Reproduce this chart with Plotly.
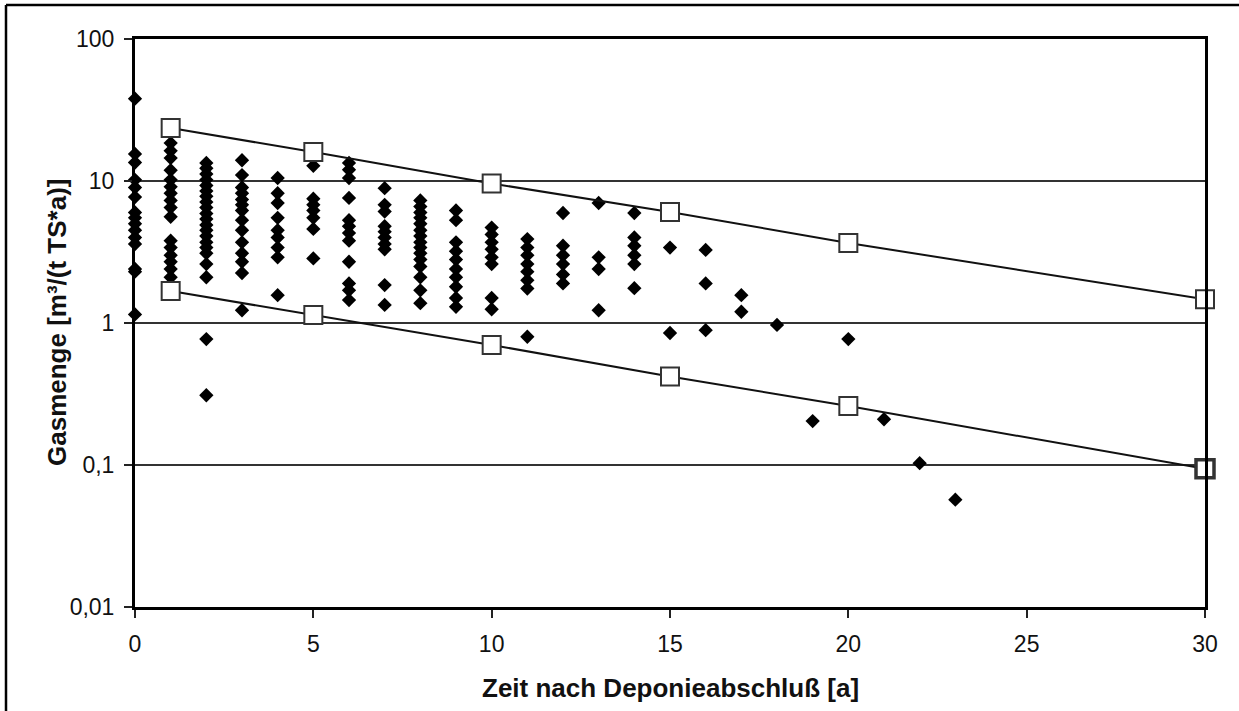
import plotly.graph_objects as go

# ---- data ----
meas_x = (
    [0] * 15 + [1] * 16 + [2] * 21 + [3] * 14 + [4] * 9 + [5] * 7 + [6] * 12 +
    [7] * 10 + [8] * 15 + [9] * 10 + [10] * 8 + [11] * 8 + [12] * 6 + [13] * 4 +
    [14] * 6 + [15] * 2 + [16] * 3 + [17] * 2 + [18, 19, 20, 21, 22, 23]
)
meas_y = (
    [38, 15.5, 13.5, 10.2, 9.0, 7.7, 6.0, 5.5, 5.0, 4.5, 4.0, 3.6, 2.4, 2.3, 1.15]
    + [18.5, 16.3, 14.5, 11.9, 10.2, 9.1, 8.2, 7.3, 6.5, 5.6, 3.8, 3.4, 3.0, 2.7, 2.4, 2.1]
    + [13.4, 12.3, 11.2, 10.2, 9.3, 8.5, 7.8, 7.1, 6.5, 5.9, 5.4, 4.9, 4.5, 4.1, 3.7, 3.4, 3.1, 2.6, 2.1, 0.77, 0.31]
    + [14, 11, 9.0, 8.2, 7.4, 6.8, 6.2, 5.3, 4.5, 3.7, 3.1, 2.7, 2.25, 1.23]
    + [10.5, 8.2, 7.0, 5.5, 4.5, 4.0, 3.4, 2.9, 1.57]
    + [12.8, 7.5, 6.8, 6.2, 5.5, 4.6, 2.85]
    + [13.4, 12.0, 10.5, 7.6, 5.3, 4.8, 4.3, 3.8, 2.7, 1.9, 1.7, 1.45]
    + [8.9, 6.8, 6.1, 4.8, 4.4, 4.0, 3.6, 3.3, 1.85, 1.34]
    + [7.3, 6.6, 6.0, 5.5, 5.0, 4.5, 4.1, 3.7, 3.4, 3.1, 2.8, 2.5, 2.1, 1.7, 1.38]
    + [6.2, 5.3, 3.7, 3.2, 2.8, 2.4, 2.1, 1.8, 1.5, 1.3]
    + [4.7, 4.2, 3.7, 3.3, 2.9, 2.6, 1.5, 1.25]
    + [3.9, 3.4, 3.0, 2.6, 2.3, 2.0, 1.75, 0.8]
    + [5.95, 3.5, 3.0, 2.6, 2.2, 1.9]
    + [7.0, 2.9, 2.4, 1.23]
    + [5.95, 4.0, 3.5, 3.0, 2.6, 1.76]
    + [3.4, 0.85]
    + [3.27, 1.9, 0.89]
    + [1.57, 1.2]
    + [0.97, 0.204, 0.77, 0.21, 0.103, 0.057]
)

env_x = [1, 5, 10, 15, 20, 30]
upper_y = [23.6, 16.0, 9.6, 6.05, 3.66, 1.47]
lower_y = [1.68, 1.14, 0.70, 0.42, 0.26, 0.094]

x_ticks = [0, 5, 10, 15, 20, 25, 30]
y_tickvals = [0.01, 0.1, 1, 10, 100]
y_ticktext = ["0,01", "0,1", "1", "10", "100"]

x_title = "Zeit nach Deponieabschluß [a]"
y_title = "Gasmenge [m³/(t TS*a)]"

FONT = "Liberation Sans, Arial, sans-serif"

fig = go.Figure()

fig.add_trace(go.Scatter(
    x=meas_x, y=meas_y, mode="markers",
    marker=dict(symbol="diamond", size=11, color="black", line=dict(width=0)),
    cliponaxis=False, showlegend=False,
))

for ys, lw in ((upper_y, [2, 2, 2, 2, 2, 2]), (lower_y, [2, 2, 2, 2, 2, 3.5])):
    fig.add_trace(go.Scatter(
        x=env_x, y=ys, mode="lines+markers",
        line=dict(color="#111111", width=2),
        marker=dict(symbol="square", size=18, color="white",
                    line=dict(color="#333333", width=lw)),
        cliponaxis=False, showlegend=False,
    ))

W, H = 1239, 711
L, R, T, B = 135, 34, 39, 104
pw, ph = W - L - R, H - T - B

def px_x(p):
    return (p - L) / pw

def px_y(p):
    return (H - B - p) / ph

# outer frame (only top and left visible in the reference)
fig.add_shape(type="line", xref="paper", yref="paper",
              x0=px_x(6), y0=px_y(5), x1=px_x(1245), y1=px_y(5),
              line=dict(color="black", width=2.5))
fig.add_shape(type="line", xref="paper", yref="paper",
              x0=px_x(6), y0=px_y(5), x1=px_x(6), y1=px_y(720),
              line=dict(color="black", width=2.5))

fig.add_annotation(text="<b>" + x_title + "</b>", xref="paper", yref="paper",
                   x=px_x(670), y=px_y(688), xanchor="center", yanchor="middle",
                   showarrow=False, font=dict(size=26, family=FONT, color="#111111"))
fig.add_annotation(text="<b>" + y_title + "</b>", xref="paper", yref="paper",
                   x=px_x(57), y=px_y(322), xanchor="center", yanchor="middle",
                   textangle=-90, showarrow=False,
                   font=dict(size=26, family=FONT, color="#111111"))

fig.update_layout(
    width=W, height=H,
    margin=dict(l=L, r=R, t=T, b=B, pad=0),
    paper_bgcolor="white", plot_bgcolor="white",
    font=dict(family=FONT, color="black"),
    xaxis=dict(
        range=[0, 30], tickvals=x_ticks, ticks="outside", ticklen=8,
        tickwidth=2, tickcolor="#222222",
        tickfont=dict(size=23, family=FONT, color="#111111"),
        ticklabelstandoff=6,
        showline=True, linecolor="black", linewidth=3, mirror=True,
        showgrid=False, zeroline=False,
    ),
    yaxis=dict(
        type="log", range=[-2, 2], tickvals=y_tickvals, ticktext=y_ticktext,
        ticks="outside", ticklen=8, tickwidth=2, tickcolor="#222222",
        tickfont=dict(size=23, family=FONT, color="#111111"),
        ticklabelstandoff=5,
        showline=True, linecolor="black", linewidth=3, mirror=True,
        showgrid=True, gridcolor="#333333", gridwidth=2, zeroline=False,
    ),
)

fig.write_html("out.html")
